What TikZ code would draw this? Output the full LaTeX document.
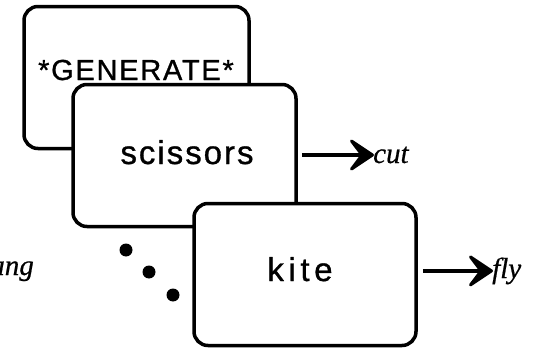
\documentclass[tikz,border=0pt]{standalone}
\usepackage{fontspec}
\setmainfont{Liberation Serif}
\newfontfamily\boxfont{Liberation Sans}[FakeBold=0.9]
\newfontfamily\outfont{Liberation Serif Italic}[FakeBold=0.6]
\usetikzlibrary{arrows.meta}
\tikzset{
  card/.style={draw=black, line width=3.5pt, rounded corners=14pt, fill=white,
    minimum width=#1, minimum height=142pt, inner sep=0pt},
  cardtext/.style={font=\boxfont\fontsize{#1}{#1}\selectfont},
  outtext/.style={font=\outfont\fontsize{29}{31}\selectfont, inner sep=0pt},
  outarrow/.style={line width=4pt, -{Stealth[length=30pt, width=40pt, inset=15pt, line width=3pt, round]}},
  dot/.style={circle, fill=black, minimum size=13pt, inner sep=0pt},
}
\begin{document}
\begin{tikzpicture}[x=1pt, y=-1pt]
  \useasboundingbox (0,0) rectangle (550,348);
  % three stacked cards
  \node[card=225pt] (gen) at (136.5,77.5) {};
  \node[cardtext=29, anchor=base] (genlabel) at (136,80) {\addfontfeature{LetterSpace=6}*GENERATE*};
  \node[card=223pt] (sci) at (184.5,155.5) {};
  \node[cardtext=33, anchor=base] (scilabel) at (187,164) {\addfontfeature{LetterSpace=6}scissors};
  \node[card=222pt] (kite) at (305,274.5) {};
  \node[cardtext=33, anchor=base] (kitelabel) at (300,281) {\addfontfeature{LetterSpace=14}kite};
  % ellipsis dots
  \node[dot] (d1) at (126,250) {};
  \node[dot] (d2) at (149,272) {};
  \node[dot] (d3) at (173,295) {};
  % outputs
  \node[outtext, anchor=base west] (cut) at (373,163) {cut};
  \node[outtext, anchor=base west] (fly) at (492,278) {fly};
  \node[outtext, anchor=base east] (ang) at (34,275) {ang};
  \draw[outarrow] (sci.east |- cut.west) ++(4pt,0) -- ([xshift=1pt]cut.west);
  \draw[outarrow] (kite.east |- fly.west) ++(5pt,0) -- ([xshift=1pt]fly.west);
\end{tikzpicture}
\end{document}
